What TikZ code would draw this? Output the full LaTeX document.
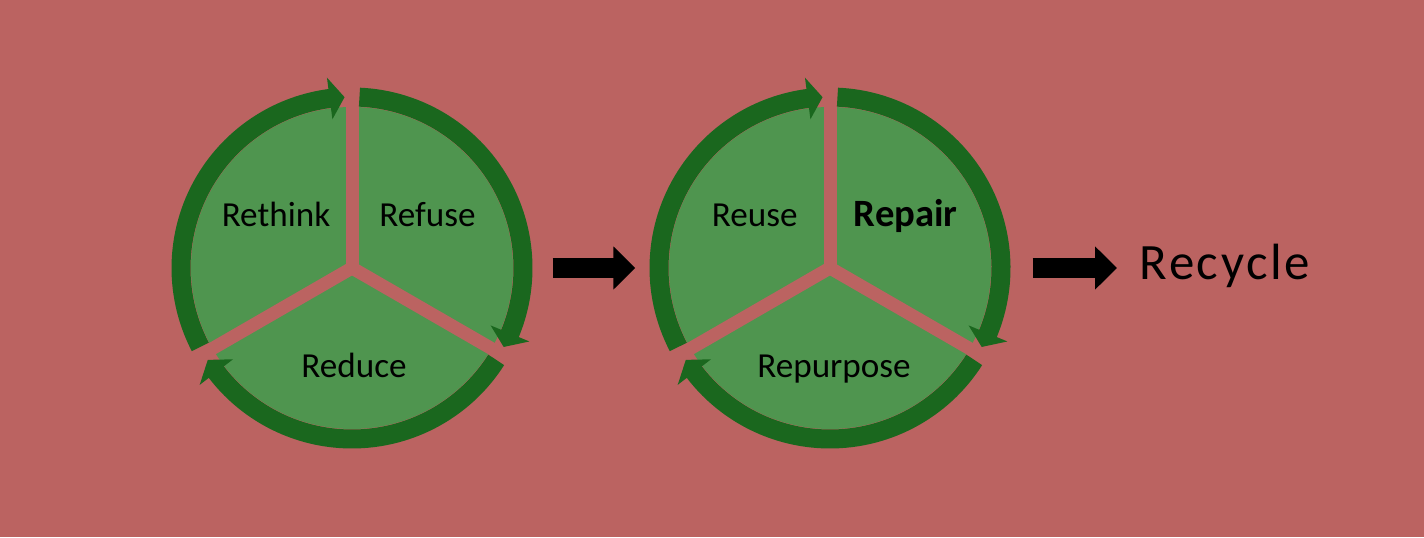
\documentclass[tikz,border=0pt]{standalone}
\usepackage{fontspec}
\setmainfont{Carlito}
\usetikzlibrary{arrows.meta}
\definecolor{bgred}{RGB}{187,99,97}
\definecolor{leafgreen}{RGB}{79,149,79}
\definecolor{ringgreen}{RGB}{26,103,30}

\begin{document}
\begin{tikzpicture}[
        disk/.style={circle, fill=leafgreen, minimum size=3.22cm, inner sep=0pt},
        gapline/.style={draw=bgred, line width=0.13cm},
        ring/.style={draw=ringgreen, line width=0.19cm},
        lbl/.style={font=\fontsize{10}{12}\selectfont, inner sep=0pt, anchor=base},
        blockarrow/.style={line width=0.206cm, -{Triangle[length=0.22cm, width=0.42cm]}}]
            % Nen
            \fill[bgred] (0,0) rectangle (14.24,5.37);
            
            % Hai hinh tron
            \node[disk] (cA) at (3.52,2.69) {};
            \node[disk] (cB) at (8.30,2.69) {};
            
            % Khe chia ba phan va mui ten vong
            \foreach \c in {cA,cB}{
                \begin{scope}[shift={(\c.center)}]
                    \foreach \g in {90,-30,-150}
                        \draw[gapline] (0,0) -- (\g:1.95);
                    \foreach \g in {90,-30,-150}{
                        \draw[ring] ({\g+117.5}:1.71) arc[start angle=\g+117.5, end angle=\g+7, radius=1.71cm];
                        \fill[ringgreen] ({\g+7.5}:1.50) -- ({\g+7.5}:1.92) -- ({\g+2.5}:1.71) -- cycle;
                    }
                \end{scope}
            }
            
            % Chu trong hinh tron
            \node[lbl] (rethink) at ([shift={(-0.76,0.415)}]cA.center) {Rethink};
            \node[lbl] (refuse) at ([shift={(0.755,0.415)}]cA.center) {Refuse};
            \node[lbl] (reduce) at ([shift={(0.02,-1.093)}]cA.center) {Reduce};
            \node[lbl] (reuse) at ([shift={(-0.753,0.415)}]cB.center) {Reuse};
            \node[lbl, font=\fontsize{11}{13}\selectfont\bfseries] (repair) at ([shift={(0.758,0.415)}]cB.center) {Repair};
            \node[lbl] (repurpose) at ([shift={(0.04,-1.093)}]cB.center) {Repurpose};
            \node[font={\fontsize{14.5}{17}\selectfont\addfontfeatures{LetterSpace=5}}, inner sep=0pt, anchor=base west] (recycle) at (11.39,2.577) {Recycle};
            
            % Mui ten den
            \draw[blockarrow, shorten <=0.39cm, shorten >=0.33cm] (cA.east) -- (cB.west);
            \draw[blockarrow, shorten <=0.41cm, shorten >=0.22cm] (cB.east) -- (cB.east -| recycle.west);
        \end{tikzpicture}
\end{document}
